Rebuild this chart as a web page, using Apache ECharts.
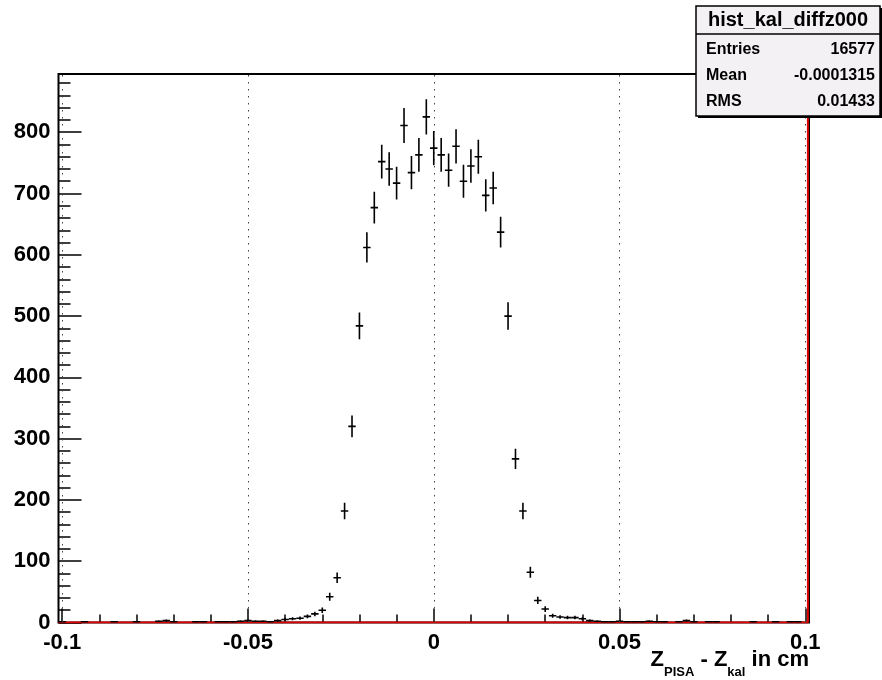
<!DOCTYPE html>
<html>
<head>
<meta charset="utf-8">
<script src="https://cdn.jsdelivr.net/npm/echarts@6/dist/echarts.min.js"></script>
<style>
  html, body { margin: 0; padding: 0; background: #fff; }
  #chart { width: 882px; height: 680px; }
</style>
</head>
<body>
<div id="chart"></div>
<script>
// histogram definition: 101 bins, width 0.002, centres -0.1 .. 0.1
const histLow = -0.101;
const histHigh = 0.101;
const binWidth = 0.002;

// bin contents (left tail, core, right tail)
const leftTail = [1, 0, 0, 1, 0, 0, 0, 1, 0, 0, 1, 0, 0, 2, 3, 1, 0, 0, 1, 1,
                  0, 1, 1, 1, 2, 3, 2, 2, 1, 3];
const coreCounts = [5, 6, 7, 10, 14, 20, 42, 73, 182, 320, 484, 612, 677, 752, 740, 717,
                    811, 734, 763, 825, 774, 763, 738, 777, 720, 745, 760, 697, 709, 637,
                    500, 267, 182, 82, 36, 22, 11, 9, 8, 8, 6];
const rightTail = [3, 2, 1, 1, 2, 1, 1, 1, 2, 1, 1, 0, 1, 3, 1, 0, 1, 1, 0, 0,
                   0, 0, 1, 0, 0, 1, 0, 1, 1, 0];

const xMajorTicks = [-0.1, -0.05, 0, 0.05, 0.1];
const xMinorTicks = [-0.09, -0.08, -0.07, -0.06, -0.04, -0.03, -0.02, -0.01,
                     0.01, 0.02, 0.03, 0.04, 0.06, 0.07, 0.08, 0.09];
const yMajorTicks = [0, 100, 200, 300, 400, 500, 600, 700, 800];
const yMinorTicks = [20, 40, 60, 80, 120, 140, 160, 180, 220, 240, 260, 280, 320, 340, 360, 380,
                     420, 440, 460, 480, 520, 540, 560, 580, 620, 640, 660, 680, 720, 740, 760, 780,
                     820, 840, 860, 880];
const yMax = 895;

// the red line drawn along the bottom and up the right edge
const redLine = [[-0.101, 0], [0.1007, 0], [0.1007, 895]];

const statsRows = [
    ['Entries', '16577'],
    ['Mean', '-0.0001315'],
    ['RMS', '0.01433']
];

const FONT = '"Liberation Sans", Arial, Helvetica, sans-serif';

const counts = leftTail.concat(coreCounts, rightTail);
const histData = counts.map((c, i) => [histLow + binWidth / 2 + i * binWidth, c]);

function renderErrorBar(params, api) {
    const x = api.value(0);
    const y = api.value(1);
    if (y <= 0) return null;
    const err = Math.sqrt(y);
    const lo = api.coord([x, y - err]);
    const hi = api.coord([x, y + err]);
    const l = api.coord([x - binWidth / 2, y]);
    const r = api.coord([x + binWidth / 2, y]);
    const style = { stroke: '#000', lineWidth: 1.6 };
    return {
        type: 'group',
        children: [
            { type: 'line', shape: { x1: lo[0], y1: lo[1], x2: hi[0], y2: hi[1] }, style: style },
            { type: 'line', shape: { x1: l[0], y1: l[1], x2: r[0], y2: r[1] }, style: style }
        ]
    };
}

function statsGraphics() {
    const boxX = 696, boxY = 6, boxW = 184, boxH = 110;
    const items = [
        { type: 'rect', shape: { x: boxX + 2, y: boxY + 2, width: boxW, height: boxH },
          style: { fill: '#000' }, z: 10 },
        { type: 'rect', shape: { x: boxX, y: boxY, width: boxW, height: boxH },
          style: { fill: '#f4f1f4', stroke: '#000', lineWidth: 1.5 }, z: 11 },
        { type: 'line', shape: { x1: boxX, y1: 34, x2: boxX + boxW, y2: 34 },
          style: { stroke: '#000', lineWidth: 1.5 }, z: 12 },
        { type: 'text', x: boxX + boxW / 2, y: 20, z: 12,
          style: { text: 'hist_kal_diffz000', fill: '#000', font: 'bold 20px ' + FONT,
                   align: 'center', verticalAlign: 'middle' } }
    ];
    statsRows.forEach((row, i) => {
        const y = 50 + i * 26;
        items.push({ type: 'text', x: 706, y: y, z: 12,
            style: { text: row[0], fill: '#000', font: 'bold 16px ' + FONT,
                     align: 'left', verticalAlign: 'middle' } });
        items.push({ type: 'text', x: 875, y: y, z: 12,
            style: { text: row[1], fill: '#000', font: 'bold 16px ' + FONT,
                     align: 'right', verticalAlign: 'middle' } });
    });
    return items;
}

const labelStyle = { color: '#000', fontSize: 22, fontWeight: 'bold', fontFamily: FONT };

const option = {
    animation: false,
    backgroundColor: '#fff',
    grid: {
        left: 58.5, top: 74, width: 750.5, height: 548.5,
        show: true, borderColor: '#000', borderWidth: 2, backgroundColor: 'transparent'
    },
    xAxis: [
        {
            type: 'value', min: histLow, max: histHigh,
            axisLine: { show: false, onZero: false },
            splitLine: { show: false },
            axisTick: { show: true, inside: true, length: 14, customValues: xMajorTicks,
                        lineStyle: { color: '#000', width: 1.5 } },
            axisLabel: Object.assign({ customValues: xMajorTicks, margin: 9,
                        formatter: v => String(v) }, labelStyle)
        },
        {
            type: 'value', min: histLow, max: histHigh, position: 'bottom',
            axisLine: { show: false, onZero: false },
            splitLine: { show: false },
            axisLabel: { show: false },
            axisTick: { show: true, inside: true, length: 8, customValues: xMinorTicks,
                        lineStyle: { color: '#000', width: 1.5 } }
        }
    ],
    yAxis: [
        {
            type: 'value', min: 0, max: yMax,
            axisLine: { show: false, onZero: false },
            splitLine: { show: false },
            axisTick: { show: true, inside: true, length: 23, customValues: yMajorTicks,
                        lineStyle: { color: '#000', width: 1.5 } },
            axisLabel: Object.assign({ customValues: yMajorTicks, margin: 8,
                        formatter: v => String(v) }, labelStyle)
        },
        {
            type: 'value', min: 0, max: yMax, position: 'left',
            axisLine: { show: false, onZero: false },
            splitLine: { show: false },
            axisLabel: { show: false },
            axisTick: { show: true, inside: true, length: 12, customValues: yMinorTicks,
                        lineStyle: { color: '#000', width: 1.5 } }
        }
    ],
    series: [
        {
            type: 'line',
            data: redLine,
            showSymbol: false,
            lineStyle: { color: '#e00000', width: 2 },
            z: 2,
            markLine: {
                silent: true,
                symbol: 'none',
                label: { show: false },
                lineStyle: { color: '#444', width: 1, type: [1.5, 5.5] },
                data: xMajorTicks.map(v => ({ xAxis: v }))
            }
        },
        {
            type: 'custom',
            renderItem: renderErrorBar,
            data: histData,
            encode: { x: 0, y: 1 },
            clip: true,
            z: 3
        }
    ],
    graphic: [
        {
            type: 'text', right: 73, top: 649,
            style: {
                text: '{m|Z}{s|PISA}{m| - Z}{s|kal}{m| in cm}',
                fill: '#000',
                rich: {
                    m: { fontSize: 22, fontWeight: 'bold', fontFamily: FONT, lineHeight: 24,
                         verticalAlign: 'top', fill: '#000' },
                    s: { fontSize: 13, fontWeight: 'bold', fontFamily: FONT, lineHeight: 46,
                         fill: '#000' }
                }
            }
        }
    ].concat(statsGraphics())
};

const chart = echarts.init(document.getElementById('chart'));
chart.setOption(option);
</script>
</body>
</html>
